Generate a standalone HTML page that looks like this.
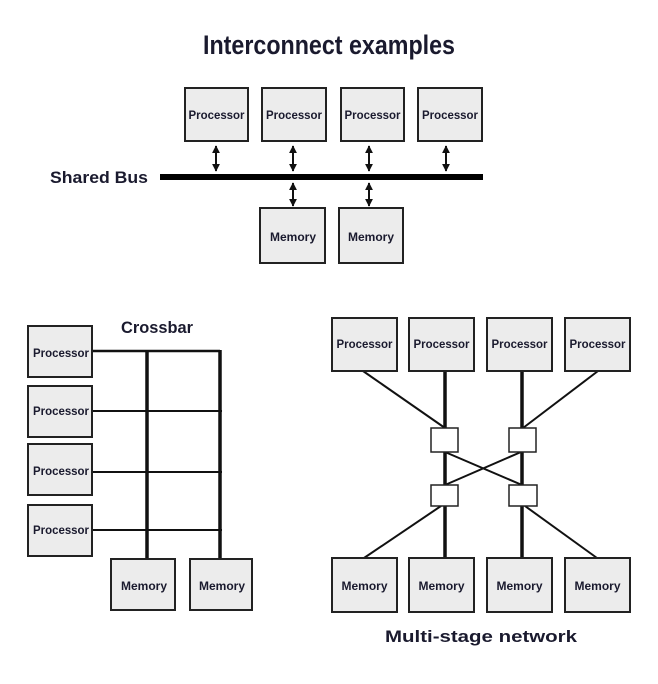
<!DOCTYPE html>
<html><head><meta charset="utf-8"><style>
html,body{margin:0;padding:0;background:#fff;}
svg{display:block;}
text{font-family:"Liberation Sans Narrow","Liberation Sans",sans-serif;font-weight:bold;fill:#1a1a2e;}
.b{fill:#ececec;stroke:#222;stroke-width:2;}
.s{fill:#fff;stroke:#222;stroke-width:1.5;}
.l{stroke:#111;stroke-width:2;fill:none;}
.t{stroke:#111;stroke-width:3.5;fill:none;}
.p{font-size:12px;}
</style></head><body>
<svg width="658" height="684" viewBox="0 0 658 684" xmlns="http://www.w3.org/2000/svg">
<defs><marker id="a" viewBox="0 0 10 10" refX="9" refY="5" markerWidth="4" markerHeight="4" orient="auto-start-reverse"><path d="M0,0L10,5L0,10z" fill="#111"/></marker></defs>
<text x="329" y="54" font-size="27" text-anchor="middle" textLength="252" lengthAdjust="spacingAndGlyphs">Interconnect examples</text>
<!-- shared bus -->
<rect class="b" x="185" y="88" width="63" height="53"/>
<rect class="b" x="262" y="88" width="64" height="53"/>
<rect class="b" x="341" y="88" width="63" height="53"/>
<rect class="b" x="418" y="88" width="64" height="53"/>
<g class="p" text-anchor="middle">
<text x="216.5" y="119" textLength="56" lengthAdjust="spacingAndGlyphs">Processor</text>
<text x="294" y="119" textLength="56" lengthAdjust="spacingAndGlyphs">Processor</text>
<text x="372.5" y="119" textLength="56" lengthAdjust="spacingAndGlyphs">Processor</text>
<text x="450" y="119" textLength="56" lengthAdjust="spacingAndGlyphs">Processor</text>
</g>
<line x1="160" y1="177" x2="483" y2="177" stroke="#000" stroke-width="6"/>
<text x="50" y="183" font-size="17" textLength="98" lengthAdjust="spacingAndGlyphs">Shared Bus</text>
<g class="l" marker-start="url(#a)" marker-end="url(#a)">
<line x1="216" y1="146" x2="216" y2="171" marker-start="url(#a)" marker-end="url(#a)"/>
<line x1="293" y1="146" x2="293" y2="171" marker-start="url(#a)" marker-end="url(#a)"/>
<line x1="369" y1="146" x2="369" y2="171" marker-start="url(#a)" marker-end="url(#a)"/>
<line x1="446" y1="146" x2="446" y2="171" marker-start="url(#a)" marker-end="url(#a)"/>
<line x1="293" y1="183" x2="293" y2="206" marker-start="url(#a)" marker-end="url(#a)"/>
<line x1="369" y1="183" x2="369" y2="206" marker-start="url(#a)" marker-end="url(#a)"/>
</g>
<rect class="b" x="260" y="208" width="65" height="55"/>
<rect class="b" x="339" y="208" width="64" height="55"/>
<g class="p" text-anchor="middle">
<text x="293" y="241" textLength="46" lengthAdjust="spacingAndGlyphs">Memory</text>
<text x="371" y="241" textLength="46" lengthAdjust="spacingAndGlyphs">Memory</text>
</g>
<!-- crossbar -->
<text x="157" y="333" font-size="17" text-anchor="middle" textLength="72" lengthAdjust="spacingAndGlyphs">Crossbar</text>
<g class="l">
<line x1="92" y1="351" x2="220" y2="351" stroke-width="2.5"/>
<line x1="92" y1="411" x2="222" y2="411"/>
<line x1="92" y1="472" x2="222" y2="472"/>
<line x1="92" y1="530" x2="222" y2="530"/>
</g>
<g class="t">
<line x1="147" y1="350" x2="147" y2="560"/>
<line x1="220" y1="350" x2="220" y2="560"/>
</g>
<rect class="b" x="28" y="326" width="64" height="51"/>
<rect class="b" x="28" y="386" width="64" height="51"/>
<rect class="b" x="28" y="444" width="64" height="51"/>
<rect class="b" x="28" y="505" width="64" height="51"/>
<g class="p" font-size="11" text-anchor="middle">
<text x="61" y="357" textLength="56" lengthAdjust="spacingAndGlyphs">Processor</text>
<text x="61" y="415" textLength="56" lengthAdjust="spacingAndGlyphs">Processor</text>
<text x="61" y="475" textLength="56" lengthAdjust="spacingAndGlyphs">Processor</text>
<text x="61" y="534" textLength="56" lengthAdjust="spacingAndGlyphs">Processor</text>
</g>
<rect class="b" x="111" y="559" width="64" height="51"/>
<rect class="b" x="190" y="559" width="62" height="51"/>
<g class="p" text-anchor="middle">
<text x="144" y="590" textLength="46" lengthAdjust="spacingAndGlyphs">Memory</text>
<text x="222" y="590" textLength="46" lengthAdjust="spacingAndGlyphs">Memory</text>
</g>
<!-- multistage -->
<g class="l">
<line x1="363" y1="371" x2="445" y2="428"/>
<line x1="598" y1="371" x2="523" y2="428"/>
<line x1="445" y1="452" x2="522" y2="485"/>
<line x1="521" y1="452" x2="445" y2="485"/>
<line x1="441" y1="506" x2="364" y2="558"/>
<line x1="525" y1="506" x2="597" y2="558"/>
</g>
<g class="t">
<line x1="445" y1="371" x2="445" y2="558"/>
<line x1="522" y1="371" x2="522" y2="558"/>
</g>
<rect class="s" x="431" y="428" width="27" height="24"/>
<rect class="s" x="509" y="428" width="27" height="24"/>
<rect class="s" x="431" y="485" width="27" height="21"/>
<rect class="s" x="509" y="485" width="28" height="21"/>
<rect class="b" x="332" y="318" width="65" height="53"/>
<rect class="b" x="409" y="318" width="65" height="53"/>
<rect class="b" x="487" y="318" width="65" height="53"/>
<rect class="b" x="565" y="318" width="65" height="53"/>
<g class="p" text-anchor="middle">
<text x="364.5" y="348" textLength="56" lengthAdjust="spacingAndGlyphs">Processor</text>
<text x="441.5" y="348" textLength="56" lengthAdjust="spacingAndGlyphs">Processor</text>
<text x="519.5" y="348" textLength="56" lengthAdjust="spacingAndGlyphs">Processor</text>
<text x="597.5" y="348" textLength="56" lengthAdjust="spacingAndGlyphs">Processor</text>
</g>
<rect class="b" x="332" y="558" width="65" height="54"/>
<rect class="b" x="409" y="558" width="65" height="54"/>
<rect class="b" x="487" y="558" width="65" height="54"/>
<rect class="b" x="565" y="558" width="65" height="54"/>
<g class="p" text-anchor="middle">
<text x="364.5" y="590" textLength="46" lengthAdjust="spacingAndGlyphs">Memory</text>
<text x="441.5" y="590" textLength="46" lengthAdjust="spacingAndGlyphs">Memory</text>
<text x="519.5" y="590" textLength="46" lengthAdjust="spacingAndGlyphs">Memory</text>
<text x="597.5" y="590" textLength="46" lengthAdjust="spacingAndGlyphs">Memory</text>
</g>
<text x="481" y="642" font-size="17" text-anchor="middle" textLength="192" lengthAdjust="spacingAndGlyphs">Multi-stage network</text>
</svg>
</body></html>
